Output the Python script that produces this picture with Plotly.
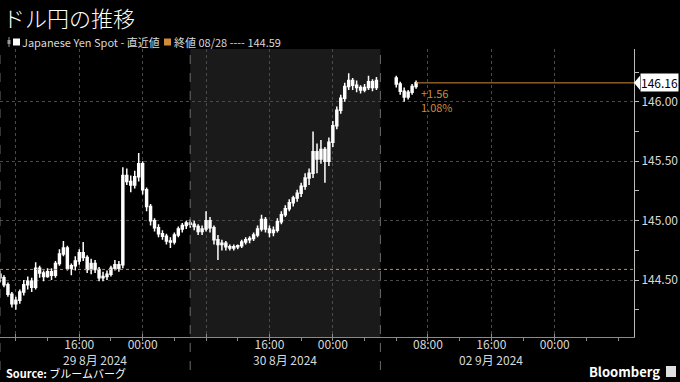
import plotly.graph_objects as go
import pandas as pd

# ---------------- data ----------------
# 30-minute bars, session 29 Aug 06:00 -> 31 Aug 06:00 (JST)
opens = [144.55,144.52,144.46,144.38,144.30,144.33,144.40,144.46,144.49,144.44,
         144.60,144.56,144.53,144.57,144.54,144.64,144.72,144.77,144.60,144.62,
         144.66,144.73,144.69,144.59,144.64,144.59,144.52,144.53,144.55,144.60,
         144.60,144.63,145.38,145.33,145.30,145.37,145.48,145.26,145.12,145.00,
         144.94,144.89,144.87,144.83,144.82,144.88,144.93,144.96,144.98,144.97,
         144.95,144.91,144.93,145.00,144.94,144.84,144.80,144.81,144.78,144.77,
         144.78,144.79,144.82,144.84,144.85,144.88,144.93,145.01,144.93,144.90,
         144.92,144.99,145.05,145.10,145.15,145.19,145.23,145.29,145.36,145.40,
         145.58,145.52,145.60,145.50,145.66,145.80,145.93,146.03,146.13,146.18,
         146.14,146.12,146.10,146.12,146.17,146.12]
highs = [144.58,144.54,144.48,144.40,144.36,144.42,144.50,144.53,144.52,144.65,
         144.62,144.58,144.60,144.60,144.66,144.76,144.83,144.79,144.64,144.70,
         144.76,144.82,144.71,144.68,144.67,144.61,144.57,144.58,144.62,144.67,
         144.66,145.45,145.44,145.38,145.42,145.57,145.50,145.28,145.14,145.02,
         144.97,144.92,144.89,144.86,144.90,144.95,144.98,145.00,145.01,145.00,
         144.97,144.96,145.08,145.03,144.96,144.88,144.84,144.83,144.80,144.80,
         144.80,144.84,144.86,144.87,144.90,144.96,145.05,145.03,144.96,144.95,
         145.02,145.08,145.13,145.18,145.21,145.26,145.32,145.40,145.44,145.75,
         145.65,145.68,145.62,145.70,145.84,145.96,146.06,146.16,146.24,146.20,
         146.18,146.14,146.15,146.22,146.19,146.21]
lows = [144.48,144.44,144.36,144.27,144.25,144.30,144.37,144.42,144.40,144.42,
        144.52,144.49,144.52,144.50,144.52,144.62,144.70,144.58,144.54,144.58,
        144.63,144.66,144.56,144.55,144.56,144.49,144.49,144.50,144.53,144.58,
        144.57,144.60,145.30,145.24,145.27,145.33,145.22,145.08,144.96,144.91,
        144.86,144.84,144.80,144.77,144.80,144.86,144.90,144.93,144.94,144.92,
        144.88,144.88,144.91,144.90,144.80,144.67,144.75,144.75,144.75,144.75,
        144.76,144.77,144.80,144.81,144.83,144.86,144.91,144.90,144.86,144.87,
        144.90,144.97,145.03,145.08,145.12,145.16,145.20,145.26,145.30,145.36,
        145.40,145.48,145.32,145.46,145.62,145.77,145.90,146.00,146.10,146.10,
        146.08,146.07,146.08,146.10,146.09,146.10]
closes = [144.52,144.46,144.38,144.30,144.33,144.40,144.46,144.49,144.44,144.60,
          144.56,144.53,144.57,144.54,144.64,144.72,144.77,144.60,144.62,144.66,
          144.73,144.69,144.59,144.64,144.59,144.52,144.53,144.55,144.60,144.63,
          144.63,145.38,145.33,145.30,145.37,145.48,145.26,145.12,145.00,144.94,
          144.89,144.87,144.83,144.82,144.88,144.93,144.96,144.98,144.97,144.95,
          144.91,144.93,145.00,144.94,144.84,144.80,144.81,144.78,144.77,144.78,
          144.79,144.82,144.84,144.85,144.88,144.93,145.01,144.93,144.90,144.92,
          144.99,145.05,145.10,145.15,145.19,145.23,145.29,145.36,145.40,145.58,
          145.52,145.60,145.50,145.66,145.80,145.93,146.03,146.13,146.18,146.14,
          146.12,146.10,146.12,146.17,146.12,146.18]
# 02 Sep session, 30-minute bars from 04:00
opens_mon = [146.20,146.15,146.09,146.04,146.08,146.13]
highs_mon = [146.22,146.17,146.12,146.10,146.15,146.18]
lows_mon = [146.12,146.06,146.00,146.02,146.06,146.11]
closes_mon = [146.15,146.09,146.04,146.08,146.13,146.16]

start_week = "2024-08-29 06:00"
start_mon = "2024-09-02 04:00"
prev_close = 144.59
prev_close_label = "終値 08/28 ---- 144.59"
last_price = 146.16
change_abs = "+1.56"
change_pct = "1.08%"

tick_vals = ["2024-08-29 08:00", "2024-08-29 16:00", "2024-08-30 00:00",
             "2024-08-30 08:00", "2024-08-30 16:00", "2024-08-31 00:00",
             "2024-09-02 08:00", "2024-09-02 16:00", "2024-09-03 00:00"]
tick_text = ["", "16:00", "00:00", "", "16:00", "00:00", "08:00", "16:00", "00:00"]
day_labels = ["29 8月 2024", "30 8月 2024", "02 9月 2024"]
day_label_pos = ["2024-08-29 18:00", "2024-08-30 18:00", "2024-09-02 16:00"]
session_bounds = ["2024-08-29 06:00", "2024-08-30 06:00", "2024-09-02 02:00"]
x_range = ["2024-08-29 06:00", "2024-09-03 10:00"]
y_ticks = [144.5, 145.0, 145.5, 146.0]
y_range = [144.021, 146.445]

t_week = pd.date_range(start_week, periods=len(closes), freq="30min")
t_mon = pd.date_range(start_mon, periods=len(closes_mon), freq="30min")
times = list(t_week) + list(t_mon)

ORANGE = "#d08a3a"
GRID = "#4a4a4a"
TXT = "#d8d8d8"
FONT = "Noto Sans CJK JP"

def py(px):
    """pixel row -> paper y (plot spans rows 49..337)"""
    return (337 - px) / 288

def pxx(px):
    """pixel column -> paper x (plot spans columns 0..634)"""
    return px / 634

fig = go.Figure()
fig.add_trace(go.Candlestick(
    x=times,
    open=opens + opens_mon, high=highs + highs_mon,
    low=lows + lows_mon, close=closes + closes_mon,
    increasing=dict(line=dict(color="white", width=1.5), fillcolor="white"),
    decreasing=dict(line=dict(color="white", width=1.5), fillcolor="white"),
    whiskerwidth=0, showlegend=False, hoverinfo="skip",
))
# previous close dotted line
fig.add_trace(go.Scatter(x=x_range, y=[prev_close, prev_close], mode="lines",
                         line=dict(color=ORANGE, width=1, dash="dot"),
                         showlegend=False, hoverinfo="skip"))
# last price line
fig.add_trace(go.Scatter(x=[times[-1], x_range[1]], y=[last_price, last_price], mode="lines",
                         line=dict(color=ORANGE, width=1),
                         showlegend=False, hoverinfo="skip"))

shapes = []
# shaded 30 Aug session
shapes.append(dict(type="rect", xref="x", yref="paper", x0=session_bounds[1], x1=session_bounds[2],
                   y0=0, y1=1, fillcolor="#1a1a1a", line_width=0, layer="below"))
for sb in session_bounds:
    shapes.append(dict(type="line", xref="x", yref="paper", x0=sb, x1=sb, y0=py(370), y1=1,
                       line=dict(color="#6a6a6a", width=1, dash="dash"), layer="above"))
# legend icons
shapes.append(dict(type="line", xref="paper", yref="paper", x0=pxx(9), x1=pxx(9),
                   y0=py(47), y1=py(37), line=dict(color="#999", width=1)))
shapes.append(dict(type="rect", xref="paper", yref="paper", x0=pxx(7.5), x1=pxx(10.5),
                   y0=py(44), y1=py(40), fillcolor="#999", line_width=0))
shapes.append(dict(type="rect", xref="paper", yref="paper", x0=pxx(13), x1=pxx(20),
                   y0=py(45.5), y1=py(38.5), fillcolor="white", line_width=0))
shapes.append(dict(type="rect", xref="paper", yref="paper", x0=pxx(164), x1=pxx(171),
                   y0=py(45.5), y1=py(38.5), fillcolor=ORANGE, line_width=0))
# last-price tag arrow
shapes.append(dict(type="path", xref="paper", yref="y",
                   path=f"M 1.0 {last_price} L {pxx(640)} {last_price+0.06} L {pxx(640)} {last_price-0.06} Z",
                   fillcolor="white", line_width=0))
# Bloomberg icon
shapes.append(dict(type="rect", xref="paper", yref="paper", x0=pxx(666), x1=pxx(676),
                   y0=py(377), y1=py(366), fillcolor="#e0e0e0", line_width=0))

ann = []
ann.append(dict(text="ドル円の推移", xref="paper", yref="paper", x=pxx(1), y=py(17),
                xanchor="left", yanchor="middle", showarrow=False,
                font=dict(size=22, color="white", family=FONT, weight=300)))
ann.append(dict(text="Japanese Yen Spot - 直近値", xref="paper", yref="paper", x=pxx(20),
                y=py(42), xanchor="left", yanchor="middle", showarrow=False,
                font=dict(size=11, color=TXT, family=FONT)))
ann.append(dict(text=prev_close_label, xref="paper", yref="paper", x=pxx(172),
                y=py(42), xanchor="left", yanchor="middle", showarrow=False,
                font=dict(size=11, color=TXT, family=FONT)))
for lab, pos in zip(day_labels, day_label_pos):
    ann.append(dict(text=lab, xref="x", yref="paper", x=pos, y=py(359),
                    xanchor="center", yanchor="middle", showarrow=False,
                    font=dict(size=12, color=TXT, family=FONT)))
ann.append(dict(text=f"{last_price:.2f}", xref="paper", yref="y", x=pxx(640), y=last_price,
                xanchor="left", yanchor="middle", showarrow=False, bgcolor="white",
                borderpad=0, font=dict(size=12, color="black", family=FONT)))
ann.append(dict(text=f"{change_abs}<br>{change_pct}", xref="x", yref="y", x=times[-1],
                y=last_price, xshift=3, yshift=0, xanchor="left", yanchor="top",
                align="left", showarrow=False,
                font=dict(size=11, color=ORANGE, family=FONT)))
ann.append(dict(text="<b>Source:</b> ブルームバーグ", xref="paper", yref="paper", x=pxx(4),
                y=py(383), xanchor="left", yanchor="bottom", showarrow=False,
                font=dict(size=11, color="white", family=FONT)))
ann.append(dict(text="<b>Bloomberg</b>", xref="paper", yref="paper", x=pxx(662),
                y=py(371), xanchor="right", yanchor="middle", showarrow=False,
                font=dict(size=13, color="white", family=FONT)))

fig.update_layout(
    width=680, height=382,
    margin=dict(l=0, r=46, t=49, b=45),
    paper_bgcolor="black", plot_bgcolor="black",
    font=dict(family=FONT, color=TXT, size=12),
    shapes=shapes, annotations=ann, showlegend=False,
    xaxis=dict(
        type="date", range=x_range,
        rangebreaks=[dict(values=["2024-08-31 06:00"], dvalue=44 * 3600 * 1000)],
        rangeslider=dict(visible=False),
        tickmode="array", tickvals=tick_vals, ticktext=tick_text,
        showgrid=True, gridcolor=GRID, griddash="dot", gridwidth=1,
        showline=True, linecolor="#8a8a8a", linewidth=1,
        ticks="inside", ticklen=3, tickcolor="#8a8a8a", ticklabelstandoff=-3,
        tickfont=dict(size=12, color=TXT), zeroline=False,
        minor=dict(ticks="outside", ticklen=3, tickcolor="#8a8a8a",
                   dtick=4 * 3600 * 1000, tick0="2024-08-29 00:00", showgrid=False),
    ),
    yaxis=dict(
        side="right", range=y_range,
        tickmode="array", tickvals=y_ticks, tickformat=".2f",
        showgrid=True, gridcolor=GRID, griddash="dot", gridwidth=1,
        showline=True, linecolor="#bbbbbb", linewidth=1,
        ticks="outside", ticklen=4, tickcolor="#bbbbbb",
        tickfont=dict(size=12, color=TXT), zeroline=False,
        minor=dict(ticks="outside", ticklen=4, tickcolor="#bbbbbb",
                   tickvals=[144.25, 144.75, 145.25, 145.75, 146.25], showgrid=False),
    ),
)

fig.write_html("out.html")
